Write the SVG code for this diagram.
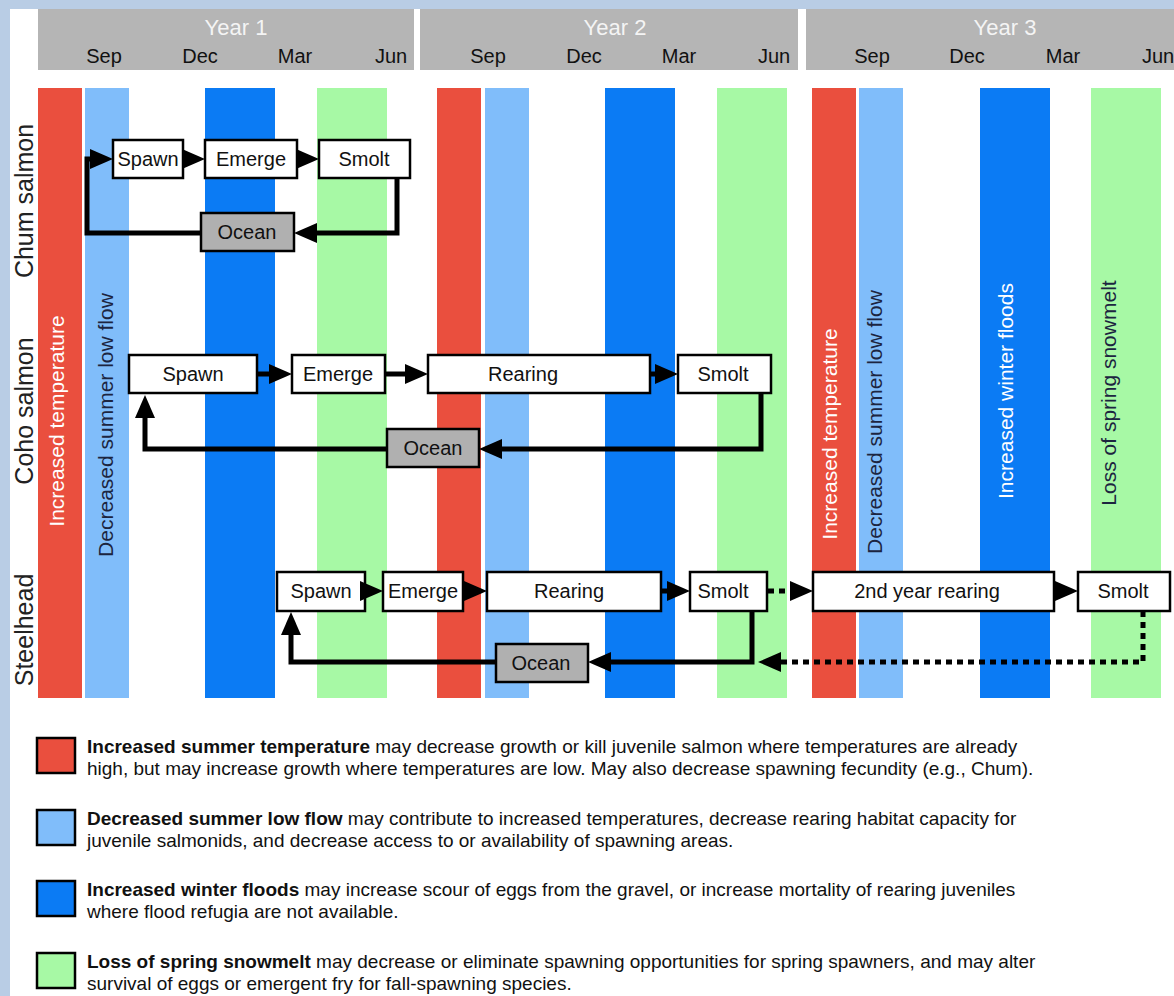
<svg xmlns="http://www.w3.org/2000/svg" width="1174" height="996" viewBox="0 0 1174 996">
<style>
text{font-family:"Liberation Sans",Arial,sans-serif}
.hdr{fill:#b5b5b5}
.yr{font-size:22px;fill:#f4f4f4;text-anchor:middle}
.mo{font-size:20px;fill:#111;text-anchor:middle}
.red{fill:#ea4f3e}
.lb{fill:#80bdfa}
.bl{fill:#0b7bf4}
.gr{fill:#a7f9a5}
.vt{font-size:21px;text-anchor:middle}
.vw{fill:#fff}
.vd{fill:#1c2540}
.row{font-size:25px;fill:#222;text-anchor:middle}
.box{fill:#fff;stroke:#000;stroke-width:2.5}
.ocean{fill:#b0b0b0;stroke:#000;stroke-width:2.5}
.nt{font-size:20px;fill:#111;text-anchor:middle}
.con{fill:none;stroke:#000;stroke-width:5;marker-end:url(#ah)}
.dot{stroke-dasharray:6 5}
.sq{stroke:#000;stroke-width:2.5}
.lg{font-size:19px;fill:#111}
</style>
<defs>
<marker id="ah" markerUnits="userSpaceOnUse" markerWidth="23" markerHeight="20" refX="11" refY="10" orient="auto" overflow="visible">
<path d="M0,0 L23,10 L0,20 Z" fill="#000"/>
</marker>
</defs>
<rect x="0" y="0" width="1174" height="996" fill="#b9cde5"/>
<rect x="10" y="9" width="1164" height="987" fill="#fff"/>
<g id="header">
<rect class="hdr" x="38" y="9" width="376" height="61"/>
<rect class="hdr" x="420" y="9" width="378" height="61"/>
<rect class="hdr" x="806" y="9" width="368" height="61"/>
<text class="yr" x="236" y="35">Year 1</text>
<text class="yr" x="615" y="35">Year 2</text>
<text class="yr" x="1005" y="35">Year 3</text>
<text class="mo" x="104" y="63">Sep</text><text class="mo" x="200" y="63">Dec</text><text class="mo" x="295" y="63">Mar</text><text class="mo" x="391" y="63">Jun</text>
<text class="mo" x="488" y="63">Sep</text><text class="mo" x="584" y="63">Dec</text><text class="mo" x="679" y="63">Mar</text><text class="mo" x="774" y="63">Jun</text>
<text class="mo" x="872" y="63">Sep</text><text class="mo" x="967" y="63">Dec</text><text class="mo" x="1063" y="63">Mar</text><text class="mo" x="1158" y="63">Jun</text>
</g>
<g id="bands">
<rect class="red" x="38" y="88" width="44" height="610"/>
<rect class="lb" x="85" y="88" width="44" height="610"/>
<rect class="bl" x="205" y="88" width="70" height="610"/>
<rect class="gr" x="317" y="88" width="70" height="610"/>
<rect class="red" x="437" y="88" width="44" height="610"/>
<rect class="lb" x="485" y="88" width="44" height="610"/>
<rect class="bl" x="605" y="88" width="70" height="610"/>
<rect class="gr" x="717" y="88" width="70" height="610"/>
<rect class="red" x="812" y="88" width="44" height="610"/>
<rect class="lb" x="859" y="88" width="44" height="610"/>
<rect class="bl" x="980" y="88" width="70" height="610"/>
<rect class="gr" x="1091" y="88" width="70" height="610"/>
<text class="vt vw" transform="translate(64,421) rotate(-90)">Increased temperature</text>
<text class="vt vd" transform="translate(113,425) rotate(-90)">Decreased summer low flow</text>
<text class="vt vw" transform="translate(837,434) rotate(-90)">Increased temperature</text>
<text class="vt vd" transform="translate(882,422) rotate(-90)">Decreased summer low flow</text>
<text class="vt vw" transform="translate(1013,391) rotate(-90)">Increased winter floods</text>
<text class="vt vd" transform="translate(1116,393) rotate(-90)">Loss of spring snowmelt</text>
</g>
<g id="row-labels">
<text class="row" transform="translate(33,201) rotate(-90)">Chum salmon</text>
<text class="row" transform="translate(33,411) rotate(-90)">Coho salmon</text>
<text class="row" transform="translate(33,630) rotate(-90)">Steelhead</text>
</g>
<g id="chum-spawn"><rect class="box" x="113" y="140" width="70" height="38"/><text class="nt" x="148" y="166">Spawn</text></g>
<g id="chum-emerge"><rect class="box" x="205" y="140" width="92" height="38"/><text class="nt" x="251" y="166">Emerge</text></g>
<g id="chum-smolt"><rect class="box" x="319" y="140" width="91" height="38"/><text class="nt" x="364" y="166">Smolt</text></g>
<g id="chum-ocean"><rect class="ocean" x="201" y="213" width="93" height="38"/><text class="nt" x="247" y="239">Ocean</text></g>
<g id="coho-spawn"><rect class="box" x="129" y="355" width="128" height="38"/><text class="nt" x="193" y="381">Spawn</text></g>
<g id="coho-emerge"><rect class="box" x="292" y="355" width="93" height="38"/><text class="nt" x="338" y="381">Emerge</text></g>
<g id="coho-rearing"><rect class="box" x="428" y="355" width="222" height="38"/><text class="nt" x="523" y="381">Rearing</text></g>
<g id="coho-smolt"><rect class="box" x="678" y="355" width="93" height="38"/><text class="nt" x="723" y="381">Smolt</text></g>
<g id="coho-ocean"><rect class="ocean" x="387" y="429" width="92" height="38"/><text class="nt" x="433" y="455">Ocean</text></g>
<g id="sh-spawn"><rect class="box" x="277" y="572" width="88" height="39"/><text class="nt" x="321" y="598">Spawn</text></g>
<g id="sh-emerge"><rect class="box" x="383" y="572" width="80" height="39"/><text class="nt" x="423" y="598">Emerge</text></g>
<g id="sh-rearing"><rect class="box" x="487" y="572" width="174" height="39"/><text class="nt" x="569" y="598">Rearing</text></g>
<g id="sh-smolt"><rect class="box" x="690" y="572" width="77" height="39"/><text class="nt" x="723" y="598">Smolt</text></g>
<g id="sh-2nd-rearing"><rect class="box" x="813" y="572" width="241" height="39"/><text class="nt" x="927" y="598">2nd year rearing</text></g>
<g id="sh-smolt2"><rect class="box" x="1078" y="572" width="92" height="39"/><text class="nt" x="1123" y="598">Smolt</text></g>
<g id="sh-ocean"><rect class="ocean" x="496" y="644" width="92" height="38"/><text class="nt" x="541" y="670">Ocean</text></g>
<g id="connectors">
<path class="con" d="M183,159 H193"/>
<path class="con" d="M297,159 H307"/>
<path class="con" d="M397,178 V233 H306"/>
<path class="con" d="M201,233 H87 V159 H101"/>
<path class="con" d="M257,374 H280"/>
<path class="con" d="M385,374 H416"/>
<path class="con" d="M650,374 H666"/>
<path class="con" d="M761,393 V449 H491"/>
<path class="con" d="M387,449 H145 V407"/>
<path class="con" d="M365,591 H371"/>
<path class="con" d="M463,591 H475"/>
<path class="con" d="M661,591 H678"/>
<path class="con dot" d="M768,591 H801"/>
<path class="con" d="M1054,591 H1066"/>
<path class="con" d="M752,611 V662 H600"/>
<path class="con" d="M496,662 H291 V624"/>
<path class="con dot" d="M1143,611 V662 H770"/>
</g>
<g id="legend">
<rect class="sq red" x="37" y="738" width="38" height="35"/>
<rect class="sq lb" x="37" y="810" width="38" height="35"/>
<rect class="sq bl" x="37" y="881" width="38" height="35"/>
<rect class="sq gr" x="37" y="953" width="38" height="35"/>
<text class="lg" x="87" y="753"><tspan font-weight="bold">Increased summer temperature</tspan> may decrease growth or kill juvenile salmon where temperatures are already</text>
<text class="lg" x="87" y="775">high, but may increase growth where temperatures are low. May also decrease spawning fecundity (e.g., Chum).</text>
<text class="lg" x="87" y="825"><tspan font-weight="bold">Decreased summer low flow</tspan> may contribute to increased temperatures, decrease rearing habitat capacity for</text>
<text class="lg" x="87" y="847">juvenile salmonids, and decrease access to or availability of spawning areas.</text>
<text class="lg" x="87" y="896"><tspan font-weight="bold">Increased winter floods</tspan> may increase scour of eggs from the gravel, or increase mortality of rearing juveniles</text>
<text class="lg" x="87" y="918">where flood refugia are not available.</text>
<text class="lg" x="87" y="968"><tspan font-weight="bold">Loss of spring snowmelt</tspan> may decrease or eliminate spawning opportunities for spring spawners, and may alter</text>
<text class="lg" x="87" y="990">survival of eggs or emergent fry for fall-spawning species.</text>
</g>
</svg>
